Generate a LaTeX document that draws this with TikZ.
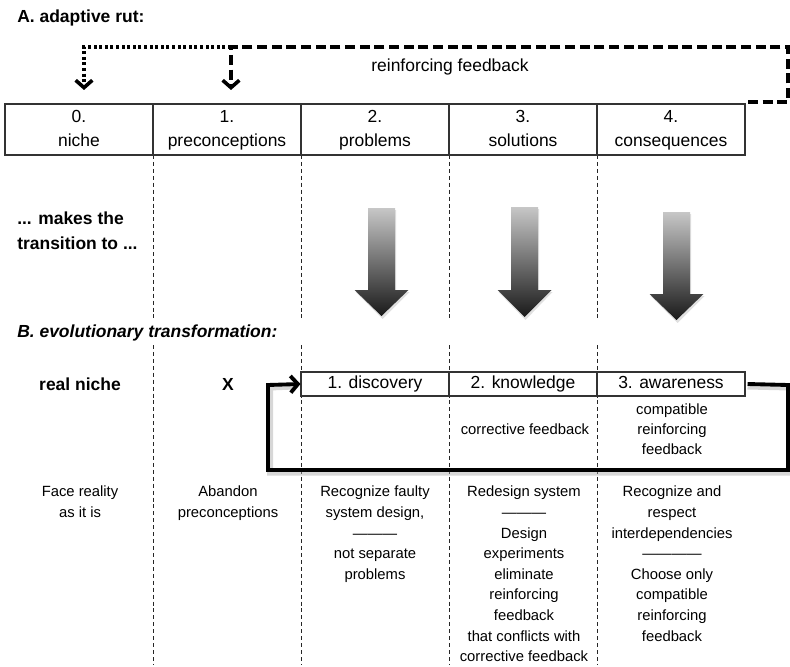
\documentclass[tikz,border=0pt]{standalone}
\usepackage{fontspec}
\setmainfont{Liberation Sans}
\usetikzlibrary{arrows.meta}

\begin{document}
\begin{tikzpicture}[x=0.75pt,y=-0.75pt,
  big/.style={font=\fontsize{13.1}{18}\selectfont, inner sep=0pt, align=center},
  bigb/.style={font=\bfseries\fontsize{13.1}{18.5}\selectfont, inner sep=0pt, align=left},
  small/.style={font=\fontsize{11.1}{15.45}\selectfont, inner sep=0pt, align=center},
  cellA/.style={draw=black!80, line width=0.8pt, minimum width=111pt, minimum height=38.25pt, big},
  cellB/.style={draw=black!80, line width=0.8pt, fill=white, minimum width=111pt, minimum height=18pt,
    text height=10pt, text depth=4pt, big},
  colsep/.style={draw=black!85, line width=0.7pt, dash pattern=on 3pt off 2.2pt},
  tip/.style={-{Straight Barb[length=5.5pt,width=12.5pt]}},
  rutdash/.style={line width=2.7pt, dash pattern=on 7.5pt off 3.5pt, tip},
  rutdot/.style={line width=2.7pt, dash pattern=on 2.2pt off 2pt, tip},
  loopline/.style={line width=2.9pt, tip, line join=miter},
  loopshadow/.style={line width=4.5pt, draw=black!35, opacity=0.45, line join=miter}
]
\useasboundingbox (0,0) rectangle (790,667);

% column separators
\foreach \xx in {153,301,449,597} {
  \draw[colsep] (\xx,155) -- (\xx,320);
  \draw[colsep] (\xx,345) -- (\xx,664);
}

% ---------- A. adaptive rut ----------
\node[bigb, anchor=west] (titleA) at (17,18) {A. adaptive rut:};

\node[cellA] (c0) at (79,129.5) {\strut0.\\\strut niche};
\node[cellA] (c1) at (227,129.5) {\strut1.\\\strut preconceptions};
\node[cellA] (c2) at (375,129.5) {\strut2.\\\strut problems};
\node[cellA] (c3) at (523,129.5) {\strut3.\\\strut solutions};
\node[cellA] (c4) at (671,129.5) {\strut4.\\\strut consequences};

\node[big] (rf) at (450,67) {reinforcing feedback};

% reinforcing feedback loop above the row
\coordinate (fe) at (748,102);
\coordinate (fr) at (788,47);
\coordinate (fk) at (231,47);
\coordinate (t1) at (231,90);
\coordinate (t0) at (84,90);
\draw[rutdash] (fe) -| (fr) -| (t1);
\draw[rutdot] (fk) -| (t0);

% ---------- transition ----------
\node[bigb, anchor=west] (trans) at (17,230.5) {... makes the\\transition to ...};

\foreach \cx/\tp/\bs/\tq in {381.5/208/290/316, 524.5/207/290/317, 676.5/212/294/320} {
  \fill[black!20, opacity=0.6]
    ({\cx-13.5+1},{\tp+2}) -- ({\cx+13.5+1},{\tp+2}) -- ({\cx+13.5+1},{\bs+2}) --
    ({\cx+27+1},{\bs+2}) -- ({\cx+1},{\tq+3}) -- ({\cx-27+1},{\bs+2}) --
    ({\cx-13.5+1},{\bs+2}) -- cycle;
  \shade[top color=black!22, bottom color=black!90]
    ({\cx-13.5},\tp) -- ({\cx+13.5},\tp) -- ({\cx+13.5},\bs) --
    ({\cx+27},\bs) -- (\cx,\tq) -- ({\cx-27},\bs) --
    ({\cx-13.5},\bs) -- cycle;
}

% ---------- B. evolutionary transformation ----------
\node[font=\bfseries\itshape\fontsize{13.1}{18}\selectfont, inner sep=0pt, anchor=west] (titleB) at (17,333) {B. evolutionary transformation:};

\node[bigb, align=center] (rn) at (80,384) {real niche};
\node[bigb, align=center] (xx) at (228,384) {X};

\node[cellB] (d1) at (375,384) {1. discovery};
\node[cellB] (d2) at (523,384) {2. knowledge};
\node[cellB] (d3) at (671,384) {3. awareness};

% corrective loop
\coordinate (l1) at (788,385);
\coordinate (l2) at (788,470);
\coordinate (l3) at (268,470);
\coordinate (l4) at (268,385);
\draw[loopshadow] ([shift={(2,2.5)}]d3.east) -- ([shift={(2,2.5)}]l1) -- ([shift={(2,2.5)}]l2) -- ([shift={(2,2.5)}]l3) -- ([shift={(2,2.5)}]l4) -- ([shift={(-6,2.5)}]d1.west);
\draw[loopline] ([xshift=1.5pt]d3.east) -- (l1) -- (l2) -- (l3) -- (l4) -- (d1.west);

\node[small] (cf) at (525,429) {corrective feedback};
\node[small, font=\fontsize{11.1}{15}\selectfont] (crf) at (672,429) {compatible\\reinforcing\\feedback};

% ---------- descriptions ----------
\node[small, anchor=north] (e0) at (80,486) {Face reality\\as it is};
\node[small, anchor=north] (e1) at (228,486) {Abandon\\preconceptions};
\node[small, anchor=north] (e2) at (375,486) {Recognize faulty\\system design,\\———\\not separate\\problems};
\node[small, anchor=north] (e3) at (524,486) {Redesign system\\———\\Design\\experiments\\eliminate\\reinforcing\\feedback\\that conflicts with\\corrective feedback};
\node[small, anchor=north] (e4) at (672,486) {Recognize and\\respect\\interdependencies\\————\\Choose only\\compatible\\reinforcing\\feedback};
\end{tikzpicture}
\end{document}
